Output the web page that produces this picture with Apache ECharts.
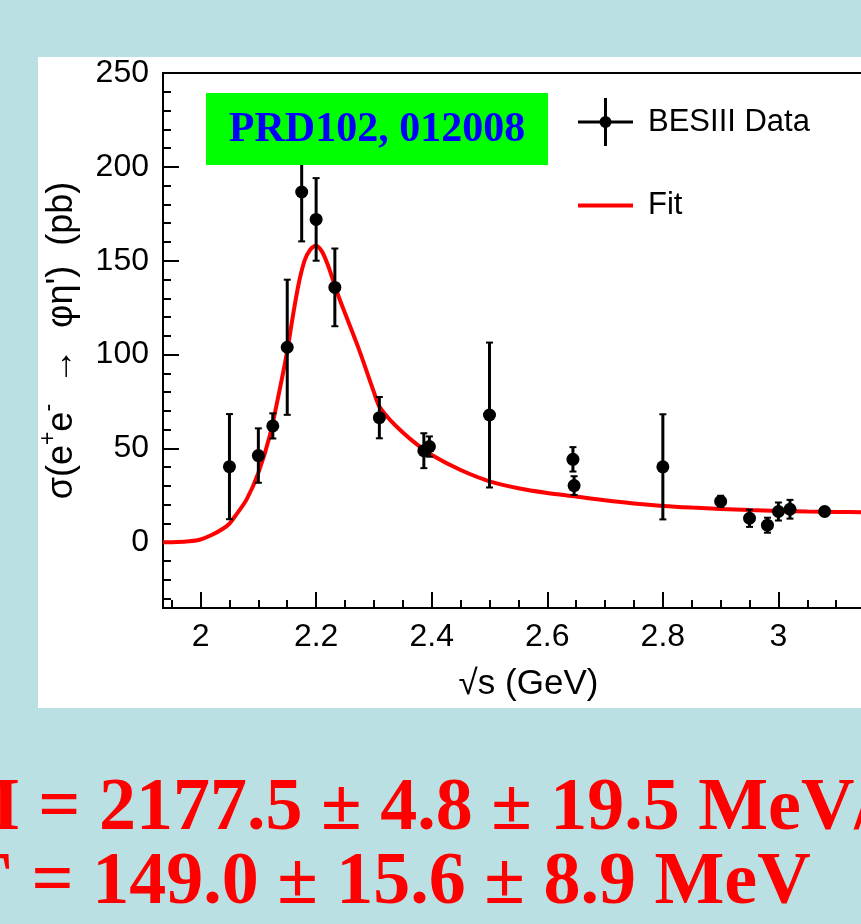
<!DOCTYPE html>
<html>
<head>
<meta charset="utf-8">
<script src="https://cdn.jsdelivr.net/npm/echarts@6/dist/echarts.min.js"></script>
<style>
html,body{margin:0;padding:0;background:#bae0e3;}
#c{width:861px;height:924px;}
</style>
</head>
<body>
<div id="c"></div>
<script>
// ---- data ----
const energies = [2.05, 2.10, 2.125, 2.15, 2.175, 2.20, 2.2324, 2.3094, 2.3864, 2.396, 2.50, 2.6444, 2.6464, 2.80, 2.90, 2.95, 2.981, 3.00, 3.02, 3.08];
const sigma    = [40.3, 46.2, 62.0, 103.9, 186.6, 172.0, 135.8, 66.4, 48.8, 51.0, 67.8, 44.2, 30.2, 40.2, 21.8, 12.8, 9.1, 16.4, 17.6, 16.4];
const sigmaErr = [28, 14.5, 6.7, 36, 26.3, 22, 20.7, 11, 9.3, 5.4, 38.6, 6.5, 5, 28, 3, 4.6, 4, 4.8, 5, 1.5];

const fitX = [1.935, 1.96, 1.98, 2.0, 2.02, 2.04, 2.05, 2.06, 2.08, 2.1, 2.12, 2.14, 2.15, 2.16, 2.17, 2.18, 2.19, 2.2, 2.21, 2.22, 2.23, 2.24, 2.25, 2.275, 2.3, 2.31, 2.33, 2.35, 2.375, 2.4, 2.45, 2.5, 2.55, 2.6, 2.65, 2.7, 2.75, 2.8, 2.85, 2.9, 2.95, 3.0, 3.05, 3.1, 3.15, 3.2];
const fitY = [0, 0.1, 0.5, 1.5, 4, 7.5, 10, 14, 23, 37, 57, 86, 102, 121, 138, 150, 156, 158, 155, 148, 139, 130, 122, 102, 80, 72, 64.5, 58.5, 52, 46.5, 38.5, 32.5, 28.8, 26.3, 24.4, 22.4, 20.7, 19.4, 18.5, 17.8, 17.2, 16.7, 16.4, 16.2, 16.0, 15.8];

const xMajor = [2.0, 2.2, 2.4, 2.6, 2.8, 3.0, 3.2];
const xMinor = [1.95, 2.05, 2.1, 2.15, 2.25, 2.3, 2.35, 2.45, 2.5, 2.55, 2.65, 2.7, 2.75, 2.85, 2.9, 2.95, 3.05, 3.1, 3.15];
const yMajor = [0, 50, 100, 150, 200, 250];
const yMinor = [-30, -20, -10, 10, 20, 30, 40, 60, 70, 80, 90, 110, 120, 130, 140, 160, 170, 180, 190, 210, 220, 230, 240];

const chart = echarts.init(document.getElementById('c'), null, {renderer: 'canvas'});
const font = 'Liberation Sans, Arial, Helvetica, sans-serif';

const pts = energies.map((e, i) => [e, sigma[i]]);
const errs = energies.map((e, i) => [e, sigma[i] - sigmaErr[i], sigma[i] + sigmaErr[i]]);
const fit = fitX.map((x, i) => [x, fitY[i]]);

const crossIcon = 'path://M0,22.5h55v3h-55z M26,0h3v48h-3z M27.5,18a6,6 0 1,1 0,12a6,6 0 1,1 0,-12z';
const lineIcon = 'path://M0,0h55v4h-55z';

chart.setOption({
  backgroundColor: '#bae0e3',
  animation: false,
  grid: {
    left: 163, top: 73, bottom: 316, right: -33,
    show: true, backgroundColor: '#ffffff', borderColor: '#000', borderWidth: 2,
    containLabel: false, outerBoundsMode: 'none'
  },
  xAxis: [
    {
      type: 'value', min: 1.935, max: 3.2, position: 'bottom',
      axisLine: {show: true, onZero: false, lineStyle: {color: '#000', width: 2}},
      axisTick: {show: true, inside: true, length: 16, customValues: xMajor, lineStyle: {color: '#000', width: 2}},
      axisLabel: {show: true, customValues: xMajor, margin: 13, fontSize: 32, color: '#000', fontFamily: font,
        formatter: v => String(+(+v).toFixed(2))},
      splitLine: {show: false},
      name: '\u221As (GeV)', nameLocation: 'middle', nameGap: 59,
      nameTextStyle: {fontSize: 35, color: '#000', fontFamily: font}
    },
    {
      type: 'value', min: 1.935, max: 3.2, position: 'bottom', gridIndex: 0,
      axisLine: {show: false, onZero: false},
      axisTick: {show: true, inside: true, length: 8, customValues: xMinor, lineStyle: {color: '#000', width: 2}},
      axisLabel: {show: false},
      splitLine: {show: false}
    }
  ],
  yAxis: [
    {
      type: 'value', min: -35, max: 250, position: 'left',
      axisLine: {show: true, onZero: false, lineStyle: {color: '#000', width: 2}},
      axisTick: {show: true, inside: true, length: 16, customValues: yMajor, lineStyle: {color: '#000', width: 2}},
      axisLabel: {show: true, customValues: yMajor, margin: 14, fontSize: 32, color: '#000', fontFamily: font},
      splitLine: {show: false},
      name: '{a|\u03C3(e}{s|+}{a|e}{s|-}{a|  \u2192  \u03C6\u03B7\')  (pb)}',
      nameLocation: 'middle', nameRotate: 90, nameGap: 76,
      nameTextStyle: {fontSize: 36, color: '#000', fontFamily: font,
        rich: {a: {fontSize: 36, lineHeight: 50, fontFamily: font, color: '#000'},
               s: {fontSize: 23, lineHeight: 50, fontFamily: font, color: '#000', verticalAlign: 'top'}}}
    },
    {
      type: 'value', min: -35, max: 250, position: 'left', gridIndex: 0,
      axisLine: {show: false, onZero: false},
      axisTick: {show: true, inside: true, length: 8, customValues: yMinor, lineStyle: {color: '#000', width: 2}},
      axisLabel: {show: false},
      splitLine: {show: false}
    }
  ],
  legend: {
    left: 578, top: 98, orient: 'vertical', itemWidth: 55, itemHeight: 48, itemGap: 44, padding: 0,
    textStyle: {fontSize: 31, color: '#000', fontFamily: font, padding: [0, 0, 0, 10]},
    data: [{name: 'BESIII Data', icon: crossIcon, itemStyle: {color: '#000', opacity: 1}}, {name: 'Fit', icon: lineIcon}]
  },
  series: [
    {
      name: 'Fit', type: 'line', xAxisIndex: 0, yAxisIndex: 0, data: fit, smooth: 0.3,
      showSymbol: false, symbol: 'none', color: '#ff0000',
      lineStyle: {color: '#ff0000', width: 4}, z: 2, clip: true
    },
    {
      name: 'errors', type: 'custom', xAxisIndex: 0, yAxisIndex: 0, data: errs, z: 3,
      renderItem: function (params, api) {
        const x = api.value(0);
        const lo = api.coord([x, api.value(1)]);
        const hi = api.coord([x, api.value(2)]);
        const st = {stroke: '#000', lineWidth: 3};
        return {
          type: 'group', children: [
            {type: 'line', shape: {x1: lo[0], y1: lo[1], x2: hi[0], y2: hi[1]}, style: st},
            {type: 'line', shape: {x1: lo[0] - 3.5, y1: lo[1], x2: lo[0] + 3.5, y2: lo[1]}, style: {stroke: '#000', lineWidth: 2}},
            {type: 'line', shape: {x1: hi[0] - 3.5, y1: hi[1], x2: hi[0] + 3.5, y2: hi[1]}, style: {stroke: '#000', lineWidth: 2}}
          ]
        };
      }
    },
    {
      name: 'BESIII Data', type: 'scatter', xAxisIndex: 0, yAxisIndex: 0, data: pts,
      symbol: 'circle', symbolSize: 13, color: '#000', itemStyle: {color: '#000', opacity: 1}, z: 4
    }
  ],
  graphic: [
    {type: 'rect', z: -10, shape: {x: 38, y: 57, width: 830, height: 651}, style: {fill: '#ffffff'}},
    {type: 'rect', z: 100, shape: {x: 206, y: 93, width: 342, height: 72}, style: {fill: '#00ff00'}},
    {type: 'text', z: 101, x: 377, y: 130, style: {text: 'PRD102, 012008', fill: '#0000ff',
      font: 'bold 42px "Liberation Serif", "Times New Roman", serif', align: 'center', verticalAlign: 'middle'}},
    {type: 'text', z: 101, x: -50, y: 810, style: {text: 'M = 2177.5 \u00B1 4.8 \u00B1 19.5 MeV/c\u00B2', fill: '#ff0000',
      font: 'bold 74px "Liberation Serif", "Times New Roman", serif', align: 'left', verticalAlign: 'middle'}},
    {type: 'text', z: 101, x: -34, y: 884, style: {text: '\u0393 = 149.0 \u00B1 15.6 \u00B1 8.9 MeV', fill: '#ff0000',
      font: 'bold 74px "Liberation Serif", "Times New Roman", serif', align: 'left', verticalAlign: 'middle'}}
  ]
});
</script>
</body>
</html>
